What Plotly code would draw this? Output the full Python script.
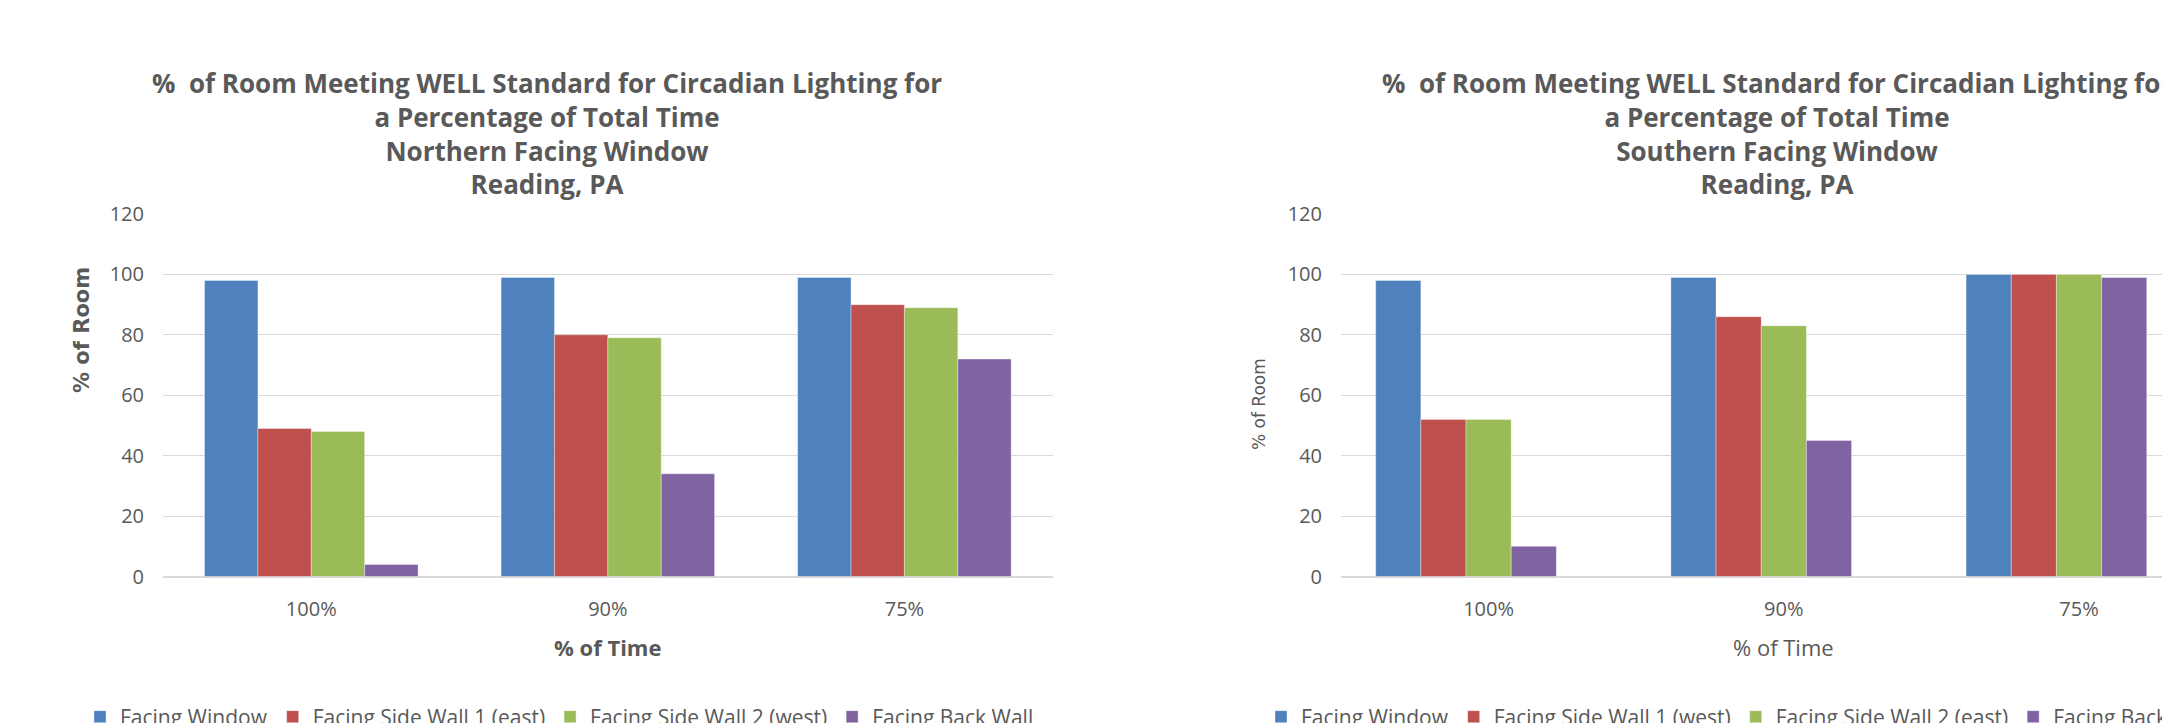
import plotly.graph_objects as go

categories = ["100%", "90%", "75%"]

north_series = ["Facing Window", "Facing Side Wall 1 (east)", "Facing Side Wall 2 (west)", "Facing Back Wall"]
north_values = [
    [98, 99, 99],
    [49, 80, 90],
    [48, 79, 89],
    [4, 34, 72],
]

south_series = ["Facing Window", "Facing Side Wall 1 (west)", "Facing Side Wall 2 (east)", "Facing Back Wall"]
south_values = [
    [98, 99, 100],
    [52, 86, 100],
    [52, 83, 100],
    [10, 45, 99],
]

colors = ["#4F81BD", "#C0504D", "#9BBB59", "#8064A2"]

y_ticks = [0, 20, 40, 60, 80, 100, 120]

title_n = ("%  of Room Meeting WELL Standard for Circadian Lighting for<br>"
           "a Percentage of Total Time<br>Northern Facing Window<br>Reading, PA")
title_s = ("%  of Room Meeting WELL Standard for Circadian Lighting for<br>"
           "a Percentage of Total Time<br>Southern Facing Window<br>Reading, PA")

W, H = 2162, 723
TXT = "#595959"
GRID = "#D9D9D9"
FONT = "Open Sans"

def px_x(p):
    return p / W

def px_y(p):
    return 1 - p / H

fig = go.Figure()

# left chart: 4 slots per group
wl = 0.18
for i, (name, vals) in enumerate(zip(north_series, north_values)):
    fig.add_trace(go.Bar(
        x=categories, y=vals, name=name, marker_color=colors[i],
        marker_line_width=0.6, marker_line_color="rgba(255,255,255,0.6)",
        width=wl, offset=-2 * wl + i * wl, xaxis="x", yaxis="y", legend="legend",
    ))

# right chart: 5 slots per group (last slot empty)
wr = 0.153
for i, (name, vals) in enumerate(zip(south_series, south_values)):
    fig.add_trace(go.Bar(
        x=categories, y=vals, name=name, marker_color=colors[i],
        marker_line_width=0.6, marker_line_color="rgba(255,255,255,0.6)",
        width=wr, offset=-2.5 * wr + i * wr, xaxis="x2", yaxis="y2", legend="legend2",
    ))

ydom = [px_y(576.5), px_y(214)]
tickfont = dict(family=FONT, size=20, color=TXT)

axis_y = dict(range=[0, 120], tickvals=y_ticks, showgrid=True, gridcolor=GRID, gridwidth=1.4,
              zeroline=True, zerolinecolor=GRID, zerolinewidth=1.8, showline=False,
              tickfont=tickfont, ticks="", ticklabelstandoff=18, domain=ydom, fixedrange=True)
axis_x = dict(showgrid=False, zeroline=False, showline=False, ticks="", tickfont=tickfont,
              ticklabelstandoff=18, type="category")

legend_font = dict(family=FONT, size=21, color=TXT)

fig.update_layout(
    width=W, height=H, margin=dict(l=0, r=0, t=0, b=0, autoexpand=False),
    paper_bgcolor="white", plot_bgcolor="white", barmode="overlay",
    xaxis=dict(axis_x, domain=[px_x(163), px_x(1052.7)], range=[-0.5, 2.5], anchor="y"),
    yaxis=dict(axis_y, anchor="x"),
    xaxis2=dict(axis_x, domain=[px_x(1341), 1.0], range=[-0.5, -0.5 + (W - 1341) / 295.2], anchor="y2"),
    yaxis2=dict(axis_y, anchor="x2"),
    legend=dict(orientation="h", x=px_x(80), y=px_y(717), xanchor="left", yanchor="middle",
                font=legend_font, bgcolor="rgba(0,0,0,0)",
                itemclick=False, traceorder="normal"),
    legend2=dict(orientation="h", x=px_x(1261), y=px_y(717), xanchor="left", yanchor="middle",
                 font=legend_font, bgcolor="rgba(0,0,0,0)",
                 itemclick=False, traceorder="normal"),
    showlegend=True,
)

for cx, text in [(547, title_n), (1777, title_s)]:
    fig.add_annotation(text=text, x=px_x(cx), y=px_y(133), xref="paper", yref="paper",
                       xanchor="center", yanchor="middle", showarrow=False, align="center",
                       font=dict(family=FONT, size=26, color=TXT, weight="bold"))

# axis titles
fig.add_annotation(text="% of Time", x=px_x(607), y=px_y(647), xref="paper", yref="paper",
                   showarrow=False, xanchor="center", yanchor="middle",
                   font=dict(family=FONT, size=22, color=TXT, weight="bold"))
fig.add_annotation(text="% of Time", x=px_x(1783), y=px_y(647), xref="paper", yref="paper",
                   showarrow=False, xanchor="center", yanchor="middle",
                   font=dict(family=FONT, size=22, color=TXT))
fig.add_annotation(text="% of Room", x=px_x(82), y=px_y(330), xref="paper", yref="paper",
                   showarrow=False, xanchor="center", yanchor="middle", textangle=-90,
                   font=dict(family="DejaVu Sans", size=21, color=TXT, weight="bold"))
fig.add_annotation(text="% of Room", x=px_x(1259), y=px_y(404), xref="paper", yref="paper",
                   showarrow=False, xanchor="center", yanchor="middle", textangle=-90,
                   font=dict(family="DejaVu Sans", size=17, color=TXT))

fig.write_html("out.html")
